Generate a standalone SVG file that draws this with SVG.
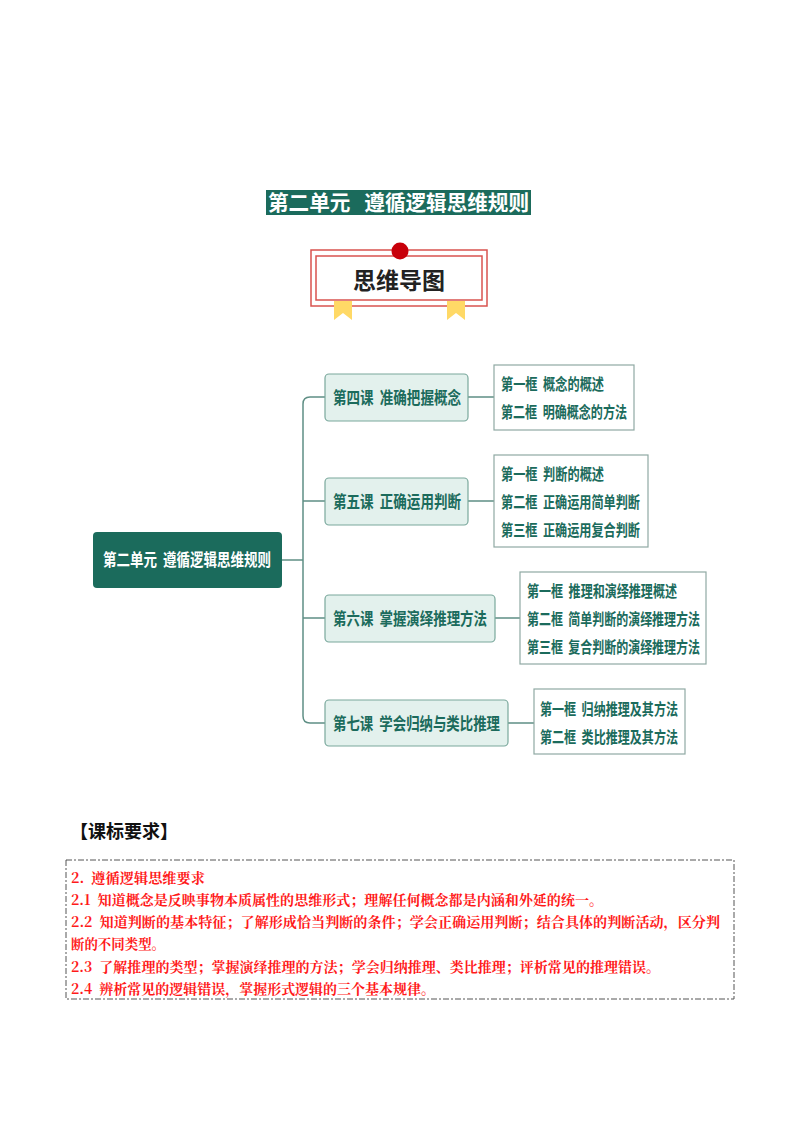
<svg xmlns="http://www.w3.org/2000/svg" width="800" height="1132" viewBox="0 0 800 1132">
<style>
text{white-space:pre}
.t{font-family:"Noto Sans CJK SC","Noto Sans",sans-serif;font-weight:bold}
.lesson rect{fill:#e3f1ed;stroke:#7aa89c;stroke-width:1.2}
.lesson text{fill:#1b6b5c;font-size:17px}
.sub rect{fill:#fff;stroke:#8fa9a3;stroke-width:1.2}
.sub text{fill:#1b6b5c;font-size:16px}
.conn path{fill:none;stroke:#5f8f85;stroke-width:1.5}
.req{fill:#ff1a1a;font-size:14px;font-family:"Noto Serif CJK SC","Noto Sans CJK SC",serif;font-weight:bold}
</style>
<rect width="800" height="1132" fill="#fff"/>
<g id="title"><rect x="266" y="190" width="265" height="25" fill="#1b6b5c"/>
<text class="t" x="268" y="210" font-size="21" fill="#fff" textLength="261" lengthAdjust="spacingAndGlyphs">第二单元   遵循逻辑思维规则</text></g>
<g id="banner">
<rect x="311" y="250" width="176" height="56" fill="#fff" stroke="#d9534f" stroke-width="1.5"/>
<rect x="316" y="256" width="166" height="44" fill="none" stroke="#d9534f" stroke-width="1.5"/>
<circle cx="400" cy="251" r="8.5" fill="#c8000a"/>
<polygon points="334,301 352,301 352,320 343,313 334,320" fill="#ffd966"/>
<polygon points="447,301 465,301 465,320 456,313 447,320" fill="#ffd966"/>
<text class="t" x="399" y="289" font-size="23" fill="#222" text-anchor="middle">思维导图</text></g>
<g class="conn" id="connectors">
<path d="M282,560 H303"/>
<path d="M325,397 H310 Q303,397 303,404 V716 Q303,723 310,723 H325"/>
<path d="M303,501 H325 M303,618 H325"/>
<path d="M468,397 H494 M468,501 H494 M495,618 H520 M508,723 H534"/>
</g>
<g id="root"><rect x="93" y="532" width="189" height="56" rx="4" fill="#1b6b5c"/>
<text class="t" x="103" y="566" font-size="17" fill="#fff" textLength="168" lengthAdjust="spacingAndGlyphs">第二单元  遵循逻辑思维规则</text></g>
<g id="l4" class="lesson"><rect x="325" y="374" width="143" height="47" rx="4"/><text class="t" x="333" y="404" textLength="128" lengthAdjust="spacingAndGlyphs">第四课  准确把握概念</text></g>
<g id="l5" class="lesson"><rect x="325" y="478" width="143" height="47" rx="4"/><text class="t" x="333" y="508" textLength="128" lengthAdjust="spacingAndGlyphs">第五课  正确运用判断</text></g>
<g id="l6" class="lesson"><rect x="325" y="595" width="170" height="47" rx="4"/><text class="t" x="333" y="625" textLength="154" lengthAdjust="spacingAndGlyphs">第六课  掌握演绎推理方法</text></g>
<g id="l7" class="lesson"><rect x="325" y="700" width="183" height="46" rx="4"/><text class="t" x="333" y="730" textLength="167" lengthAdjust="spacingAndGlyphs">第七课  学会归纳与类比推理</text></g>
<g id="s4" class="sub"><rect x="494" y="365" width="140" height="65"/>
<text class="t" x="501" y="390" textLength="103" lengthAdjust="spacingAndGlyphs">第一框  概念的概述</text><text class="t" x="501" y="418" textLength="126" lengthAdjust="spacingAndGlyphs">第二框  明确概念的方法</text></g>
<g id="s5" class="sub"><rect x="494" y="455" width="154" height="92"/>
<text class="t" x="501" y="480" textLength="103" lengthAdjust="spacingAndGlyphs">第一框  判断的概述</text><text class="t" x="501" y="508" textLength="139" lengthAdjust="spacingAndGlyphs">第二框  正确运用简单判断</text><text class="t" x="501" y="536" textLength="139" lengthAdjust="spacingAndGlyphs">第三框  正确运用复合判断</text></g>
<g id="s6" class="sub"><rect x="520" y="572" width="186" height="92"/>
<text class="t" x="527" y="597" textLength="150" lengthAdjust="spacingAndGlyphs">第一框  推理和演绎推理概述</text><text class="t" x="527" y="625" textLength="173" lengthAdjust="spacingAndGlyphs">第二框  简单判断的演绎推理方法</text><text class="t" x="527" y="653" textLength="173" lengthAdjust="spacingAndGlyphs">第三框  复合判断的演绎推理方法</text></g>
<g id="s7" class="sub"><rect x="534" y="689" width="151" height="65"/>
<text class="t" x="540" y="715" textLength="138" lengthAdjust="spacingAndGlyphs">第一框  归纳推理及其方法</text><text class="t" x="540" y="743" textLength="138" lengthAdjust="spacingAndGlyphs">第二框  类比推理及其方法</text></g>
<text class="t" x="70" y="838" font-size="18" fill="#111">【课标要求】</text>
<g id="req">
<rect x="66" y="860" width="668" height="139" fill="none" stroke="#555" stroke-width="1" stroke-dasharray="6,2,2,2"/>
<text class="req" x="71" y="883" textLength="134" lengthAdjust="spacingAndGlyphs">2.  遵循逻辑思维要求</text>
<text class="req" x="71" y="905" textLength="532" lengthAdjust="spacingAndGlyphs">2.1  知道概念是反映事物本质属性的思维形式；理解任何概念都是内涵和外延的统一。</text>
<text class="req" x="71" y="927" textLength="649" lengthAdjust="spacingAndGlyphs">2.2  知道判断的基本特征；了解形成恰当判断的条件；学会正确运用判断；结合具体的判断活动，区分判</text>
<text class="req" x="71" y="949" textLength="94" lengthAdjust="spacingAndGlyphs">断的不同类型。</text>
<text class="req" x="71" y="972" textLength="589" lengthAdjust="spacingAndGlyphs">2.3  了解推理的类型；掌握演绎推理的方法；学会归纳推理、类比推理；评析常见的推理错误。</text>
<text class="req" x="71" y="994" textLength="364" lengthAdjust="spacingAndGlyphs">2.4  辨析常见的逻辑错误，掌握形式逻辑的三个基本规律。</text>
</g>
</svg>
